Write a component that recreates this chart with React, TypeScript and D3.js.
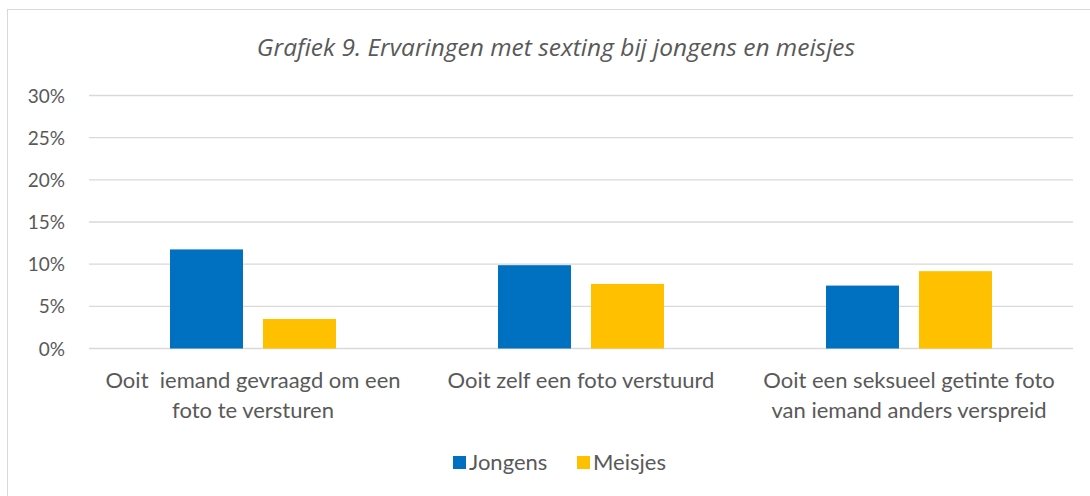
import React from "react";
import * as d3 from "d3";

const categories: string[][] = [
  ["Ooit  iemand gevraagd om een", "foto te versturen"],
  ["Ooit zelf een foto verstuurd"],
  ["Ooit een seksueel getinte foto", "van iemand anders verspreid"],
];
const seriesNames = ["Jongens", "Meisjes"];
const jongens = [0.1175, 0.0988, 0.0746];
const meisjes = [0.035, 0.0766, 0.0917];
const yTicks = [0, 0.05, 0.1, 0.15, 0.2, 0.25, 0.3];
const colors = ["#0070C0", "#FFC000"];
const title = "Grafiek 9. Ervaringen met sexting bij jongens en meisjes";

const W = 1090;
const H = 496;
const FONT = "Lato, 'Open Sans', sans-serif";
const TITLE_FONT = "'Open Sans', Lato, sans-serif";

export default function App() {
  const left = 89;
  const right = 1073;
  const top = 95.5;
  const bottom = 348.5;

  const x0 = d3
    .scaleBand<number>()
    .domain(categories.map((_, i) => i))
    .range([left, right])
    .paddingInner(0)
    .paddingOuter(0);
  const groupW = 166;
  const x1 = d3
    .scaleBand<number>()
    .domain([0, 1])
    .range([0, groupW])
    .paddingInner(20 / 93)
    .paddingOuter(0);
  const y = d3.scaleLinear().domain([0, 0.3]).range([bottom, top]);
  const fmt = d3.format(".0%");
  const series = [jongens, meisjes];

  return (
    <div style={{ position: "absolute", left: 0, top: 0 }}>
      <svg width={W} height={H} style={{ display: "block" }}>
        <rect x={0} y={0} width={W} height={H} fill="#fff" />
        <rect x={7.5} y={9.5} width={W + 10} height={H + 10} fill="#fff" stroke="#d9d9d9" strokeWidth={1} />
        <text
          x={556}
          y={56}
          textAnchor="middle"
          fontFamily={TITLE_FONT}
          fontStyle="italic"
          fontSize={24.5}
          fill="#595959"
        >
          {title}
        </text>
        {yTicks.map((t) => (
          <g key={t}>
            <line x1={left} x2={right} y1={y(t)} y2={y(t)} stroke="#d9d9d9" strokeWidth={1.3} />
            <text
              x={65}
              y={y(t) + 7}
              textAnchor="end"
              fontFamily={FONT}
              fontSize={19}
              fill="#595959"
            >
              {fmt(t)}
            </text>
          </g>
        ))}
        {categories.map((c, i) => {
          const gx = (x0(i) as number) + (x0.bandwidth() - groupW) / 2;
          return (
            <g key={i}>
              {series.map((s, j) => (
                <rect
                  key={j}
                  x={gx + (x1(j) as number)}
                  width={x1.bandwidth()}
                  y={y(s[i])}
                  height={bottom - y(s[i])}
                  fill={colors[j]}
                />
              ))}
              {c.map((line, k) => (
                <text
                  key={k}
                  x={(x0(i) as number) + x0.bandwidth() / 2}
                  y={388 + k * 30}
                  textAnchor="middle"
                  fontFamily={FONT}
                  fontSize={22}
                  fill="#595959"
                  style={{ whiteSpace: "pre" }}
                >
                  {line}
                </text>
              ))}
            </g>
          );
        })}
        {seriesNames.map((n, j) => {
          const lx = j === 0 ? 453 : 577;
          return (
            <g key={n}>
              <rect x={lx} y={456} width={13} height={13} fill={colors[j]} />
              <text x={lx + 16} y={470} fontFamily={FONT} fontSize={22} fill="#595959">
                {n}
              </text>
            </g>
          );
        })}
      </svg>
    </div>
  );
}
